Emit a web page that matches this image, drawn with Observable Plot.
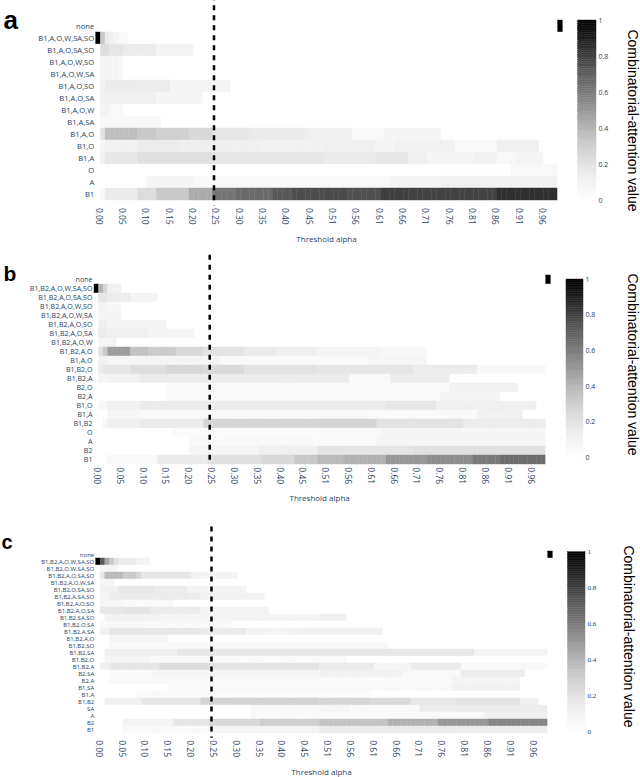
<!DOCTYPE html>
<html><head><meta charset="utf-8">
<script src="https://cdn.jsdelivr.net/npm/d3@7"></script>
<script src="https://cdn.jsdelivr.net/npm/@observablehq/plot@0.6"></script>
<style>
body{margin:0;background:#fff;}
#fig{position:relative;width:640px;height:777px;overflow:hidden;}
#fig svg{position:absolute;}
</style></head><body><div id="fig"></div>
<script>
// threshold alpha columns (np.linspace(0, 1, 100))
const thresholds = d3.range(100).map(i => i / 99);
const thresholdLine = 0.25;

const labelsA = ["none","B1,A,O,W,SA,SO","B1,A,O,SA,SO","B1,A,O,W,SO","B1,A,O,W,SA","B1,A,O,SO","B1,A,O,SA","B1,A,O,W","B1,A,SA","B1,A,O","B1,O","B1,A","O","A","B1"];
// each row: [first column index, value in %] — value holds until the next entry
const segmentsA = [
  [[99,100]],
  [[0,100],[1,32],[2,15],[3,11],[4,8],[5,6],[6,5],[7,0]],
  [[1,22],[3,18],[6,15],[13,9],[21,0]],
  [[1,9],[2,8],[5,5],[6,0]],
  [[1,8],[5,5],[6,0]],
  [[1,11],[2,15],[9,14],[16,9],[29,0]],
  [[1,11],[2,12],[13,8],[23,0]],
  [[1,9],[3,6],[6,0]],
  [[1,5],[2,6],[14,0]],
  [[1,19],[2,36],[9,32],[13,29],[20,25],[25,17],[33,15],[45,12],[55,6],[62,8],[74,0]],
  [[1,8],[2,11],[9,14],[18,12],[35,11],[49,12],[60,8],[64,11],[77,6],[86,12],[95,0]],
  [[1,11],[2,17],[9,21],[25,17],[49,15],[60,17],[67,12],[71,8],[81,11],[86,6],[90,9],[96,0]],
  [[89,6],[99,0]],
  [[11,8],[21,5],[63,8],[74,11],[99,0]],
  [[1,6],[2,15],[9,23],[13,32],[20,43],[25,62],[30,66],[38,72],[42,76],[49,77],[54,75],[61,80],[67,79],[86,85],[99,0]]
];

const labelsB = ["none","B1,B2,A,O,W,SA,SO","B1,B2,A,O,SA,SO","B1,B2,A,O,W,SO","B1,B2,A,O,W,SA","B1,B2,A,O,SO","B1,B2,A,O,SA","B1,B2,A,O,W","B1,B2,A,O","B1,A,O","B1,B2,O","B1,B2,A","B2,O","B2,A","B1,O","B1,A","B1,B2","O","A","B2","B1"];
const segmentsB = [
  [[99,100]],
  [[0,100],[1,40],[2,25],[3,11],[6,0]],
  [[1,18],[3,14],[8,9],[14,0]],
  [[1,9],[3,6],[6,0]],
  [[1,8],[6,0]],
  [[1,12],[3,9],[16,0]],
  [[1,15],[3,12],[12,8],[22,0]],
  [[1,8],[5,0]],
  [[1,21],[2,32],[3,48],[8,35],[12,31],[18,25],[24,20],[33,16],[40,12],[49,9],[63,6],[73,0]],
  [[1,11],[3,8],[28,5],[60,8],[73,0]],
  [[1,14],[2,18],[8,22],[16,26],[24,24],[33,20],[49,18],[70,14],[84,6],[99,0]],
  [[1,8],[3,11],[10,15],[24,14],[49,15],[56,6],[65,14],[78,0]],
  [[16,5],[49,5],[78,11],[93,0]],
  [[16,5],[76,9],[89,0]],
  [[1,6],[3,11],[10,15],[64,17],[75,12],[97,0]],
  [[3,8],[10,6],[60,5],[84,11],[94,0]],
  [[2,8],[3,12],[10,15],[24,26],[49,27],[62,20],[81,14],[99,0]],
  [[17,3],[49,5],[63,8],[99,0]],
  [[21,5],[62,8],[99,0]],
  [[21,8],[36,12],[49,19],[70,21],[99,0]],
  [[3,6],[14,15],[25,21],[37,25],[44,32],[49,38],[55,41],[64,50],[73,53],[83,60],[89,65],[99,0]]
];

const labelsC = ["none","B1,B2,A,O,W,SA,SO","B1,B2,O,W,SA,SO","B1,B2,A,O,SA,SO","B1,B2,A,O,W,SA","B1,B2,O,SA,SO","B1,B2,A,SA,SO","B1,B2,A,O,SO","B1,B2,A,O,SA","B1,B2,SA,SO","B1,B2,O,SA","B1,B2,A,SA","B1,B2,A,O","B1,B2,SO","B1,B2,SA","B1,B2,O","B1,B2,A","B2,SA","B2,A","B1,SA","B1,A","B1,B2","SA","A","B2","B1"];
const segmentsC = [
  [[99,100]],
  [[0,100],[1,72],[2,45],[3,32],[4,21],[5,15],[9,8],[12,0]],
  [[1,8],[5,0]],
  [[1,17],[2,38],[6,32],[9,25],[10,17],[21,9],[31,0]],
  [[1,8],[4,0]],
  [[1,11],[5,17],[13,14],[20,9],[33,0]],
  [[1,9],[3,15],[23,11],[37,0]],
  [[1,8],[6,5],[17,0]],
  [[1,17],[6,19],[12,15],[23,9],[38,0]],
  [[2,11],[14,8],[49,11],[55,0]],
  [[1,6],[10,5],[30,0]],
  [[1,11],[3,18],[23,15],[33,9],[44,11],[63,0]],
  [[3,9],[16,0]],
  [[3,5],[64,0]],
  [[2,12],[18,17],[49,17],[83,9],[99,0]],
  [[2,9],[12,6],[30,5],[49,6],[55,0]],
  [[1,12],[3,18],[14,23],[25,19],[49,15],[61,8],[69,15],[80,5],[99,0]],
  [[3,5],[12,8],[49,11],[67,6],[80,14],[94,0]],
  [[3,5],[78,9],[93,0]],
  [[16,6],[49,5],[78,11],[93,0]],
  [[9,5],[25,3],[60,0]],
  [[2,11],[10,17],[23,27],[49,26],[60,24],[69,18],[79,20],[93,11],[97,0]],
  [[34,5],[49,8],[56,5],[71,14],[99,0]],
  [[34,5],[85,11],[99,0]],
  [[6,9],[17,18],[25,25],[36,30],[49,34],[64,41],[75,50],[86,56],[99,0]],
  [[6,5],[25,9],[49,15],[78,14],[99,0]]
];

const colorTicks = [0, 0.2, 0.4, 0.6, 0.8, 1];
const colorTitle = "Combinatorial-attention value";
const xTitle = "Threshold alpha";

function expand(labels, segments) {
  const out = [];
  labels.forEach((lab, r) => {
    const segs = segments[r];
    thresholds.forEach((a, i) => {
      let v = 0;
      for (const [s, p] of segs) if (s <= i) v = p;
      out.push({combo: lab, alpha: a, value: v / 100});
    });
  });
  return out;
}

const fig = document.getElementById("fig");
const half = 0.5 / 99;
const tickColor = "#2a3f5f";

const panels = [
  {labels: labelsA, segments: segmentsA, top: 0, H: 250, mt: 14.3, mb: 44.6, ml: 95.7, mr: 77.7, rowFont: 7.6,
   xdy: 33.6, letter: "a", lx: 3, ly: 20, ls: 26,
   cb: {ml: 17.7, mr: 44, top: 20, bottom: 200, dx: 36, dy: 10, font: "'Open Sans', sans-serif"}},
  {labels: labelsB, segments: segmentsB, top: 250, H: 260, mt: 23.75, mb: 45.15, ml: 94, mr: 89.7, rowFont: 7.1,
   xdy: 33.15, letter: "b", lx: 3, ly: 24, ls: 21,
   cb: {ml: 6, mr: 57, top: 29, bottom: 207, dx: 49, dy: -4, font: "'Open Sans', sans-serif"}},
  {labels: labelsC, segments: segmentsC, top: 510, H: 267, mt: 35.6, mb: 39.3, ml: 95.7, mr: 87.7, rowFont: 6.0,
   xdy: 34, letter: "c", lx: 1, ly: 32, ls: 20,
   cb: {ml: 7.7, mr: 55, top: 41.7, bottom: 221.7, dx: 43, dy: -5.7, font: "'Liberation Serif', serif"}}
];

const steps = d3.range(0, 1, 0.01);

for (const p of panels) {
  const data = expand(p.labels, p.segments);
  const heat = Plot.plot({
    width: 640, height: p.H,
    marginTop: p.mt, marginBottom: p.mb, marginLeft: p.ml, marginRight: p.mr,
    style: {fontFamily: "'Open Sans', sans-serif", color: tickColor, background: "transparent", overflow: "visible"},
    x: {domain: [-half, 1 + half], axis: null},
    y: {domain: p.labels, padding: 0, axis: null},
    color: {type: "linear", scheme: "greys", domain: [0, 1]},
    marks: [
      Plot.barX(data, {x1: d => d.alpha - half, x2: d => d.alpha + half, y: "combo", fill: "value", stroke: "value", strokeWidth: 0.4}),
      Plot.ruleX([thresholdLine], {stroke: "#000", strokeWidth: 2.5, strokeDasharray: "5,5", insetTop: -19}),
      Plot.axisX({ticks: thresholds.filter((_, i) => i % 5 === 0), tickFormat: d3.format(".2f"), tickRotate: 90,
        tickSize: 0, tickPadding: 2, fontSize: 8.5, label: null, fill: tickColor}),
      Plot.axisY({tickSize: 0, tickPadding: 2, fontSize: p.rowFont, label: null, fill: tickColor}),
      Plot.text([xTitle], {frameAnchor: "bottom", dy: p.xdy, dx: -3, lineAnchor: "middle", fontSize: 8, fill: tickColor}),
      Plot.text([p.letter], {frameAnchor: "top-left", textAnchor: "start", lineAnchor: "middle",
        dx: p.lx - p.ml, dy: p.ly - p.mt, fontSize: p.ls, fontWeight: "bold", fontFamily: "'Liberation Sans', Arial, sans-serif", fill: "#000"})
    ]
  });
  heat.style.left = "0px";
  heat.style.top = p.top + "px";
  fig.appendChild(heat);

  const c = p.cb;
  const bar = Plot.plot({
    width: 80, height: p.H,
    marginTop: c.top, marginBottom: p.H - c.bottom, marginLeft: c.ml, marginRight: c.mr,
    style: {fontFamily: c.font, color: tickColor, background: "transparent", overflow: "visible"},
    x: {domain: [0, 1], axis: null},
    y: {domain: [0, 1], axis: null},
    color: {type: "linear", scheme: "greys", domain: [0, 1]},
    marks: [
      Plot.rect(steps, {x1: 0, x2: 1, y1: d => d, y2: d => d + 0.01, fill: d => d + 0.005, stroke: d => d + 0.005, strokeWidth: 0.4}),
      Plot.axisY({anchor: "right", ticks: colorTicks, tickFormat: d => String(d), tickSize: 0, tickPadding: 2, fontSize: 7, label: null, fill: tickColor}),
      Plot.text([colorTitle], {frameAnchor: "right", rotate: 90, textAnchor: "middle", lineAnchor: "middle",
        dx: c.dx, dy: c.dy, fontSize: 14, fontFamily: "'Liberation Sans', Arial, sans-serif", fill: "#000"})
    ]
  });
  bar.style.left = "560px";
  bar.style.top = p.top + "px";
  fig.appendChild(bar);
}
</script></body></html>
